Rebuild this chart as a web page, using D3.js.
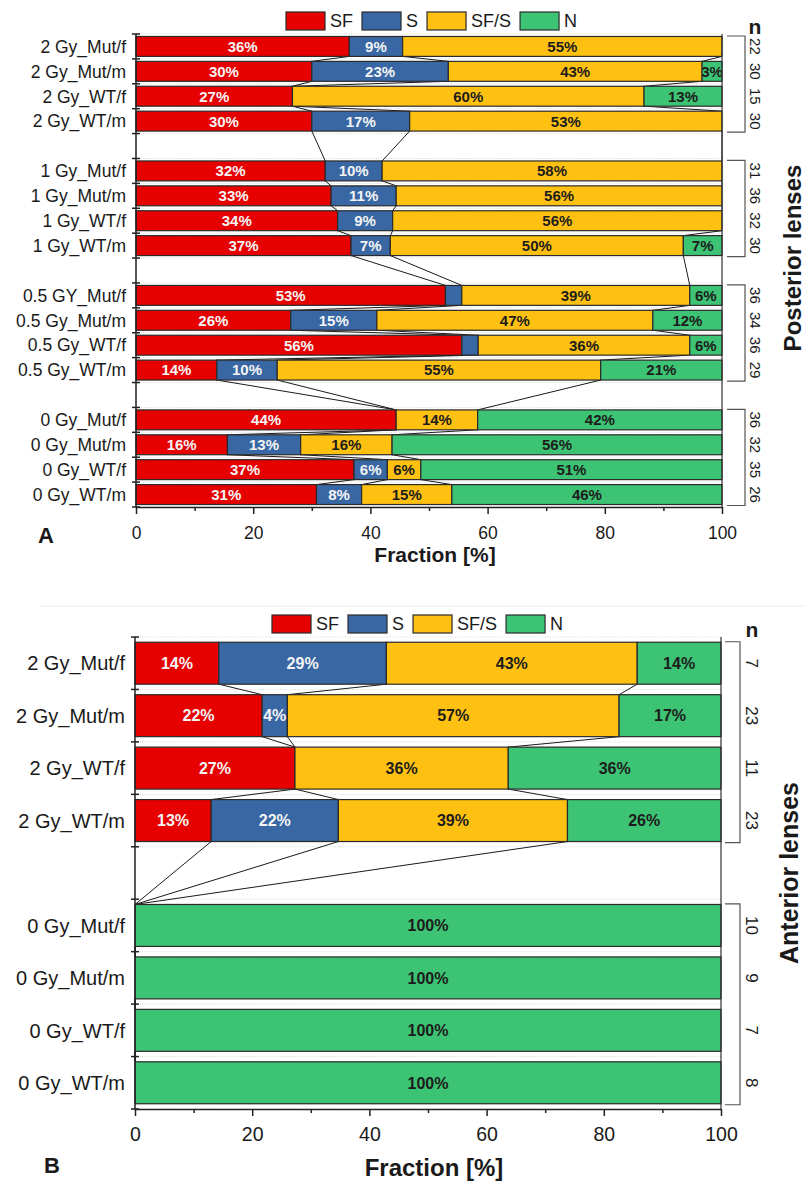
<!DOCTYPE html>
<html lang="en">
<head>
  <meta charset="UTF-8">
  <title>Lens opacity fractions</title>
  <script src="https://d3js.org/d3.v7.min.js"></script>
  <style>
    html, body {
      margin: 0;
      padding: 0;
      background: white;
      font-family: "Liberation Sans", Arial, sans-serif;
    }
    svg { display: block; }
  </style>
</head>
<body>
<svg width="805" height="1184"></svg>

<script>
// categories of lens opacity
const segKeys = ["SF", "S", "SF/S", "N"];
const segColors = ["#e60000", "#3867a4", "#fec112", "#3cc373"];
const segText = ["#f4f4f4", "#f4f4f4", "#1c1c1c", "#1c1c1c"];

// Panel A - posterior lenses
const postLabels = ["2 Gy_Mut/f", "2 Gy_Mut/m", "2 Gy_WT/f", "2 Gy_WT/m",
  "1 Gy_Mut/f", "1 Gy_Mut/m", "1 Gy_WT/f", "1 Gy_WT/m",
  "0.5 GY_Mut/f", "0.5 Gy_Mut/m", "0.5 Gy_WT/f", "0.5 Gy_WT/m",
  "0 Gy_Mut/f", "0 Gy_Mut/m", "0 Gy_WT/f", "0 Gy_WT/m"];
const postSF  = [36.4, 30.0, 26.7, 30.0, 32.3, 33.3, 34.4, 36.7, 52.8, 26.4, 55.6, 13.8, 44.4, 15.6, 37.2, 30.8];
const postS   = [9.1, 23.3, 0, 16.7, 9.7, 11.1, 9.4, 6.7, 2.8, 14.7, 2.8, 10.3, 0, 12.5, 5.7, 7.7];
const postSFS = [54.5, 43.3, 60.0, 53.3, 58.0, 55.6, 56.2, 50.0, 38.9, 47.1, 36.1, 55.2, 13.9, 15.6, 5.7, 15.4];
const postN   = [0, 3.4, 13.3, 0, 0, 0, 0, 6.6, 5.5, 11.8, 5.5, 20.7, 41.7, 56.3, 51.4, 46.1];
const postCount = [22, 30, 15, 30, 31, 36, 32, 30, 36, 34, 36, 29, 36, 32, 35, 26];
const postGroups = [4, 4, 4, 4];

// Panel B - anterior lenses
const antLabels = ["2 Gy_Mut/f", "2 Gy_Mut/m", "2 Gy_WT/f", "2 Gy_WT/m",
  "0 Gy_Mut/f", "0 Gy_Mut/m", "0 Gy_WT/f", "0 Gy_WT/m"];
const antSF  = [14.3, 21.7, 27.3, 13.0, 0, 0, 0, 0];
const antS   = [28.6, 4.3, 0, 21.7, 0, 0, 0, 0];
const antSFS = [42.8, 56.6, 36.4, 39.1, 0, 0, 0, 0];
const antN   = [14.3, 17.4, 36.3, 26.2, 100, 100, 100, 100];
const antCount = [7, 23, 11, 23, 10, 9, 7, 8];
const antGroups = [4, 4];

const xMajor = [0, 20, 40, 60, 80, 100];
const xMinor = [10, 30, 50, 70, 90];

const svg = d3.select("svg");

// faint separator between the two panels
svg.append("line")
  .attr("x1", 40).attr("x2", 805).attr("y1", 606).attr("y2", 606)
  .attr("stroke", "#ececec");

function drawPanel(p) {
  const g = svg.append("g");
  const rows = p.labels.map((label, i) => ({
    label: label, n: p.count[i],
    SF: p.sf[i], S: p.s[i], "SF/S": p.sfs[i], N: p.nn[i]
  }));

  // slot keys with an empty slot between groups
  const keys = [];
  const rowKey = [];
  let idx = 0;
  p.groups.forEach((size, gi) => {
    if (gi > 0) keys.push("gap" + gi);
    for (let k = 0; k < size; k++) {
      keys.push("r" + idx);
      rowKey.push("r" + idx);
      idx++;
    }
  });

  const x = d3.scaleLinear().domain([0, 100]).range([p.left, p.right]);
  const y = d3.scaleBand().domain(keys).range([p.top, p.bottom])
    .paddingInner(0.2).paddingOuter(0.1);
  const bw = y.bandwidth();
  const step = y.step();

  const series = d3.stack().keys(segKeys)(rows);

  // light dotted lines at slot borders
  const borders = keys.map(k => y(k) - step * 0.1).concat([p.bottom]);
  g.append("g").selectAll("line")
    .data(borders)
    .join("line")
    .attr("x1", p.left).attr("x2", p.right)
    .attr("y1", d => d).attr("y2", d => d)
    .attr("stroke", "#d6d6d6")
    .attr("stroke-dasharray", "1,1.5");

  // connector lines between consecutive bars
  const conn = [];
  for (let i = 0; i < rows.length - 1; i++) {
    for (let k = 0; k < 3; k++) {
      conn.push({
        x1: x(series[k][i][1]), y1: y(rowKey[i]) + bw,
        x2: x(series[k][i + 1][1]), y2: y(rowKey[i + 1])
      });
    }
  }
  g.append("g").selectAll("line")
    .data(conn)
    .join("line")
    .attr("x1", d => d.x1).attr("y1", d => d.y1)
    .attr("x2", d => d.x2).attr("y2", d => d.y2)
    .attr("stroke", "#1a1a1a")
    .attr("stroke-width", 1);

  // bars
  const segs = [];
  series.forEach((ser, k) => {
    ser.forEach((d, i) => {
      if (d[1] - d[0] > 0) segs.push({ k: k, i: i, x0: d[0], x1: d[1], v: d[1] - d[0] });
    });
  });

  const defs = g.append("defs");
  segs.forEach(d => {
    defs.append("clipPath").attr("id", `clip-${p.id}-${d.k}-${d.i}`)
      .append("rect")
      .attr("x", x(d.x0)).attr("y", y(rowKey[d.i]))
      .attr("width", x(d.x1) - x(d.x0)).attr("height", bw);
  });

  g.append("g").selectAll("rect")
    .data(segs)
    .join("rect")
    .attr("x", d => x(d.x0))
    .attr("y", d => y(rowKey[d.i]))
    .attr("width", d => x(d.x1) - x(d.x0))
    .attr("height", bw)
    .attr("fill", d => segColors[d.k])
    .attr("stroke", "#2a2a2a")
    .attr("stroke-width", 1.2);

  g.append("g").selectAll("text")
    .data(segs.filter(d => d.v >= 3))
    .join("text")
    .attr("clip-path", d => `url(#clip-${p.id}-${d.k}-${d.i})`)
    .attr("x", d => x((d.x0 + d.x1) / 2))
    .attr("y", d => y(rowKey[d.i]) + bw / 2)
    .attr("dy", "0.36em")
    .attr("text-anchor", "middle")
    .attr("font-weight", "bold")
    .attr("font-size", p.barFont)
    .attr("fill", d => segText[d.k])
    .text(d => Math.round(d.v) + "%");

  // left axis line + ticks at slot borders
  g.append("line")
    .attr("x1", p.left).attr("x2", p.left)
    .attr("y1", p.top).attr("y2", p.bottom)
    .attr("stroke", "#222").attr("stroke-width", 1.5);
  g.append("line")
    .attr("x1", p.right).attr("x2", p.right)
    .attr("y1", p.top).attr("y2", p.bottom)
    .attr("stroke", "#333").attr("stroke-width", 1.2);
  g.append("g").selectAll("line")
    .data(borders)
    .join("line")
    .attr("x1", p.left - 4).attr("x2", p.left + 4)
    .attr("y1", d => d).attr("y2", d => d)
    .attr("stroke", "#222").attr("stroke-width", 1.5);

  // category labels
  g.append("g").selectAll("text")
    .data(rows)
    .join("text")
    .attr("x", p.left - 10)
    .attr("y", (d, i) => y(rowKey[i]) + bw / 2)
    .attr("dy", "0.36em")
    .attr("text-anchor", "end")
    .attr("font-size", p.catFont)
    .attr("fill", "#1a1a1a")
    .text(d => d.label);

  // x axis
  const xAxis = g.append("g")
    .attr("transform", `translate(0,${p.bottom})`)
    .call(d3.axisBottom(x).tickValues(xMajor).tickSize(7).tickPadding(p.tickPad).tickSizeOuter(0));
  xAxis.select(".domain").attr("stroke", "#222").attr("stroke-width", 1.5);
  xAxis.selectAll(".tick line").attr("stroke", "#222").attr("stroke-width", 1.5);
  xAxis.selectAll(".tick text")
    .attr("font-size", p.tickFont)
    .attr("font-family", "Liberation Sans, Arial, sans-serif")
    .attr("fill", "#1a1a1a");
  const minor = g.append("g")
    .attr("transform", `translate(0,${p.bottom})`)
    .call(d3.axisBottom(x).tickValues(xMinor).tickSize(4).tickFormat(""));
  minor.select(".domain").remove();
  minor.selectAll(".tick line").attr("stroke", "#222").attr("stroke-width", 1.5);

  g.append("text")
    .attr("x", (p.left + p.right) / 2 + 6)
    .attr("y", p.titleY)
    .attr("text-anchor", "middle")
    .attr("font-weight", "bold")
    .attr("font-size", p.titleFont)
    .attr("fill", "#1a1a1a")
    .text("Fraction [%]");

  g.append("text")
    .attr("x", p.letterX).attr("y", p.letterY)
    .attr("font-weight", "bold")
    .attr("font-size", 22)
    .attr("fill", "#1a1a1a")
    .text(p.id);

  // brackets with n
  let start = 0;
  p.groups.forEach(size => {
    const y0 = y(rowKey[start]) - 0.5;
    const y1 = y(rowKey[start + size - 1]) + bw + 1;
    g.append("path")
      .attr("d", `M${p.brLeft},${y0}H${p.brX}V${y1}H${p.brLeft}`)
      .attr("fill", "none")
      .attr("stroke", "#555")
      .attr("stroke-width", 1.2);
    start += size;
  });

  g.append("g").selectAll("text")
    .data(rows)
    .join("text")
    .attr("transform", (d, i) => `translate(${p.nX},${y(rowKey[i]) + bw / 2}) rotate(90)`)
    .attr("text-anchor", "middle")
    .attr("dy", "0.36em")
    .attr("font-size", p.nFont)
    .attr("fill", "#1a1a1a")
    .text(d => d.n);

  g.append("text")
    .attr("x", p.nX).attr("y", p.legendY + 13)
    .attr("text-anchor", "middle")
    .attr("font-weight", "bold")
    .attr("font-size", 21)
    .attr("fill", "#1a1a1a")
    .text("n");

  g.append("text")
    .attr("transform", `translate(${p.sideX},${p.sideY}) rotate(-90)`)
    .attr("text-anchor", "middle")
    .attr("dy", "0.36em")
    .attr("font-weight", "bold")
    .attr("font-size", p.sideFont)
    .attr("fill", "#1a1a1a")
    .text(p.side);

  // legend
  const lg = g.append("g");
  let lx = p.legendX;
  segKeys.forEach((key, k) => {
    lg.append("rect")
      .attr("x", lx).attr("y", p.legendY - 9)
      .attr("width", 39).attr("height", 18)
      .attr("fill", segColors[k])
      .attr("stroke", "#2a2a2a")
      .attr("stroke-width", 1.2);
    const t = lg.append("text")
      .attr("x", lx + 44).attr("y", p.legendY)
      .attr("dy", "0.36em")
      .attr("font-size", 18)
      .attr("fill", "#1a1a1a")
      .text(key);
    lx += 44 + t.node().getComputedTextLength() + 9;
  });
}

drawPanel({
  id: "A", labels: postLabels, sf: postSF, s: postS, sfs: postSFS, nn: postN,
  count: postCount, groups: postGroups,
  top: 34, bottom: 507, left: 136, right: 722,
  barFont: 15, catFont: 17.5, tickFont: 17.5, tickPad: 13,
  titleY: 562, titleFont: 21, letterX: 38, letterY: 543,
  brLeft: 727, brX: 745, nX: 755, nFont: 15,
  side: "Posterior lenses", sideX: 792, sideY: 258, sideFont: 24,
  legendX: 286, legendY: 21
});

drawPanel({
  id: "B", labels: antLabels, sf: antSF, s: antS, sfs: antSFS, nn: antN,
  count: antCount, groups: antGroups,
  top: 637, bottom: 1109, left: 135, right: 721,
  barFont: 16, catFont: 20, tickFont: 19.5, tickPad: 11,
  titleY: 1176, titleFont: 24, letterX: 44, letterY: 1173,
  brLeft: 725, brX: 740, nX: 752, nFont: 17,
  side: "Anterior lenses", sideX: 789, sideY: 873, sideFont: 25,
  legendX: 272, legendY: 624
});
</script>
</body>
</html>
